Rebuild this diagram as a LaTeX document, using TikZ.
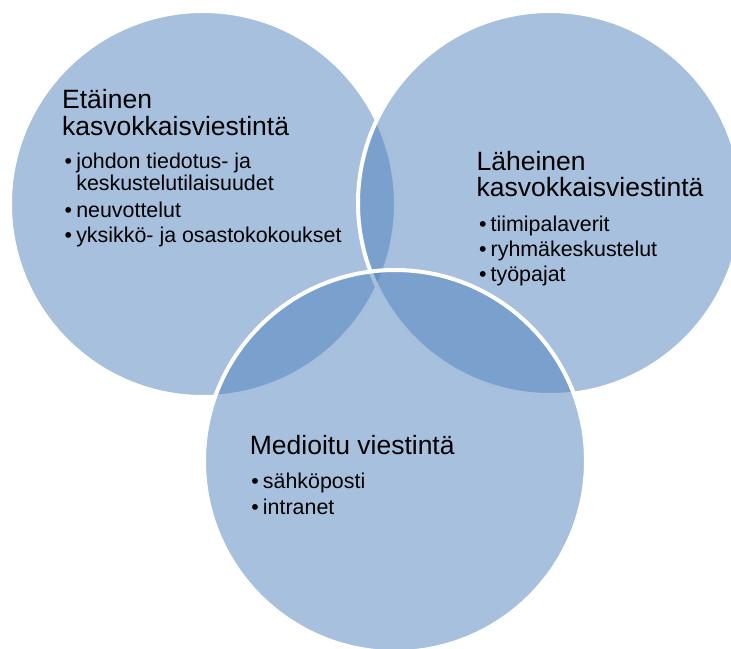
\documentclass[tikz,border=0pt]{standalone}
\usepackage{fontspec}
\setmainfont{Liberation Sans}
\definecolor{accent}{RGB}{79,129,189}
\newcommand\headfont{\fontsize{26.5}{27}\selectfont}
\newcommand\listfont{\fontsize{21.4}{22}\selectfont}
\newcommand\bul{\makebox[11.6pt][l]{•}}
\begin{document}
\begin{tikzpicture}[x=1pt,y=-1pt,
  bubble/.style={fill=accent,fill opacity=0.5,draw=white,line width=4pt},
  head/.style={font=\headfont,anchor=base west,inner sep=0pt,text=black},
  entry/.style={font=\listfont,anchor=base west,inner sep=0pt,text=black}]
\useasboundingbox (0,0) rectangle (731,648);
\clip (0,0) rectangle (731,648);

% the three overlapping channels
\path[bubble] (203,204) circle[radius=193];
\path[bubble] (550,203) circle[radius=192];
\path[bubble] (395,461) circle[radius=191];

% distant face-to-face communication
\node[head]  (lt1) at (62,108)   {Etäinen};
\node[head]  (lt2) at (62,135)   {kasvokkaisviestintä};
\node[entry] (la1) at (64.5,168) {\bul johdon tiedotus- ja};
\node[entry] (la2) at (76.1,190) {keskustelutilaisuudet};
\node[entry] (lb)  at (64.5,217) {\bul neuvottelut};
\node[entry] (lc)  at (64.5,242) {\bul yksikkö- ja osastokokoukset};

% close face-to-face communication
\node[head]  (rt1) at (476.4,170)   {Läheinen};
\node[head]  (rt2) at (476.4,196.7) {kasvokkaisviestintä};
\node[entry] (ra)  at (478.9,231)   {\bul tiimipalaverit};
\node[entry] (rb)  at (478.9,256.7) {\bul ryhmäkeskustelut};
\node[entry] (rc)  at (478.9,281.7) {\bul työpajat};

% mediated communication
\node[head]  (bt)  at (249.7,454)   {Medioitu viestintä};
\node[entry] (ba)  at (251.2,488.3) {\bul sähköposti};
\node[entry] (bb)  at (251.2,514.3) {\bul intranet};
\end{tikzpicture}
\end{document}
